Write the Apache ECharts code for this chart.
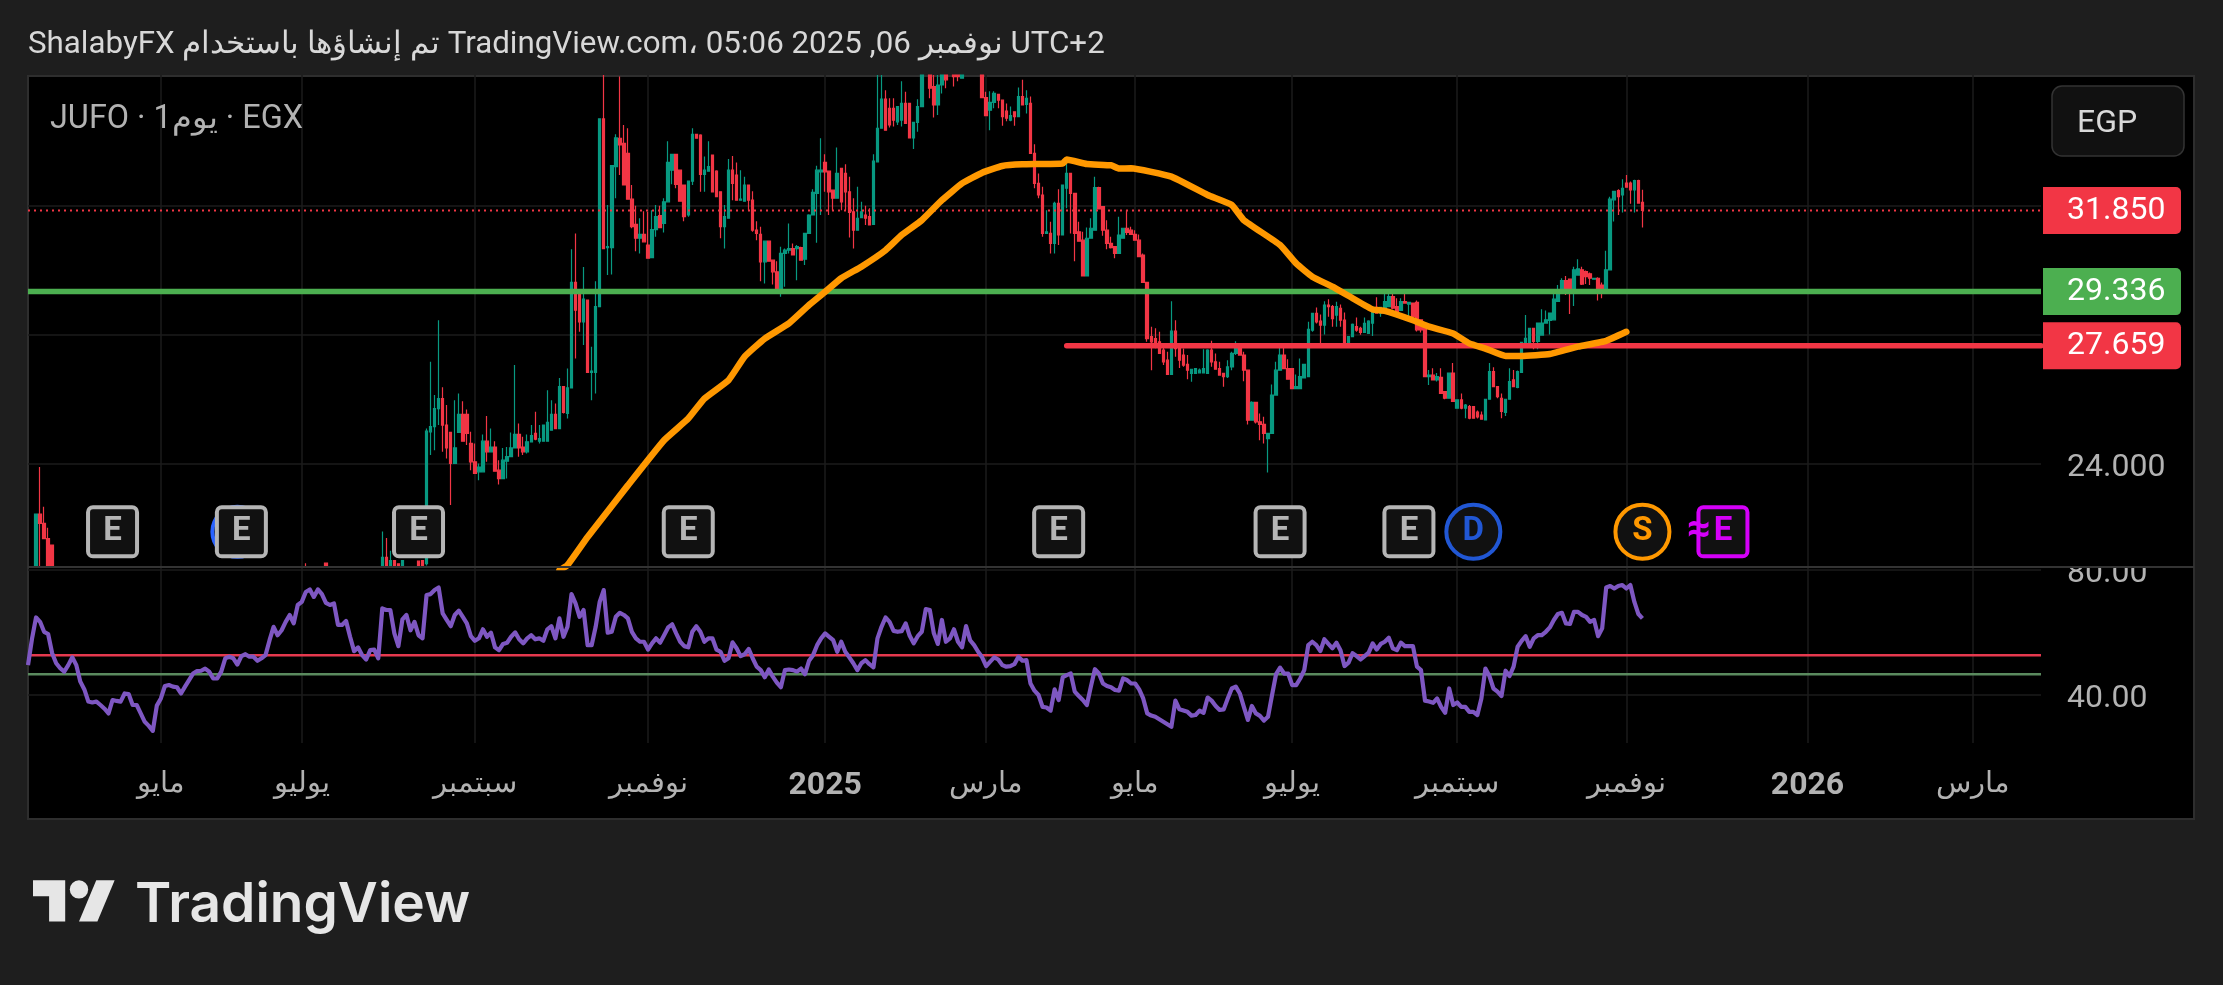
<!DOCTYPE html>
<html>
<head>
<meta charset="utf-8">
<title>JUFO</title>
<script src="https://cdn.jsdelivr.net/npm/echarts@6/dist/echarts.min.js"></script>
<style>
    html, body { margin: 0; padding: 0; background: #1e1e1e; }
    #chart { width: 2223px; height: 985px; }
</style>
</head>
<body>
<div id="chart"></div>
<script>
// bar slots on the time scale, empty ones run on into 2026
const slotCount = 501
const tickSlots = [33, 68, 111, 154, 198, 238, 275, 314, 355, 397, 442, 483]
const tickLabels = ['مايو', 'يوليو', 'سبتمبر', 'نوفمبر', '2025', 'مارس', 'مايو', 'يوليو', 'سبتمبر', 'نوفمبر', '2026', 'مارس']

// visible price range of the upper pane
const priceMin = 20.8
const priceMax = 36.05

// open, close, low, high
const firstBars = [
    [20.5, 22.44, 20.5, 22.44], [22.44, 22.15, 20.5, 23.9], [22.15, 21.68, 21.68, 22.67], [21.68, 20.5, 20.5, 22.02], [21.48, 20.5, 20.5, 21.48],
]
const firstBarsStart = 2
const tipBars = [
    [69, 20.5, 20.7, 20.5, 20.92], [74, 20.92, 20.5, 20.5, 20.92],
    [88, 20.5, 21.1, 20.5, 21.9], [89, 21.1, 20.5, 20.5, 21.7], [90, 20.5, 21.0, 20.5, 21.3], [91, 21.0, 20.5, 20.5, 21.0],
    [92, 20.9, 20.5, 20.5, 20.9], [93, 20.5, 21.0, 20.5, 21.0], [97, 20.98, 20.5, 20.5, 21.0], [98, 21, 20.5, 20.5, 21.0],
]
const mainBarsStart = 99
const mainBars = [
    [20.9, 25.01, 20.85, 25.09], [24.99, 25.15, 24.27, 27.16], [25.15, 25.71, 24.42, 26.13], [25.71, 26.02, 25.2, 28.45], [26.02, 25.2, 24.37, 26.37],
    [25.2, 24.49, 24.16, 25.82], [24.97, 24.01, 22.72, 24.97], [24.01, 24.49, 24.01, 25.97], [24.97, 25.53, 24.97, 26.18], [25.53, 24.7, 24.7, 25.94],
    [25.53, 24.94, 24.58, 25.68], [24.63, 24.06, 23.8, 24.99], [24.06, 23.7, 23.7, 24.63], [23.75, 23.9, 23.49, 24.01], [23.75, 24.7, 23.75, 24.91],
    [24.7, 24.37, 24.06, 25.48], [24.37, 24.52, 24.37, 25.09], [24.52, 23.77, 23.75, 24.7], [23.8, 23.54, 23.36, 24.11], [23.54, 24.11, 23.54, 24.49],
    [24.08, 24.22, 23.54, 24.52], [24.22, 24.49, 24.22, 24.97], [24.49, 24.91, 24.49, 27.06], [24.91, 24.49, 24.22, 25.25], [24.52, 24.37, 24.27, 24.84],
    [24.37, 24.68, 24.32, 24.91], [24.68, 24.87, 24.68, 25.2], [24.94, 24.76, 24.73, 25.61], [24.7, 24.78, 24.63, 25.2], [24.7, 25.2, 24.68, 25.2],
    [24.7, 25.28, 24.7, 26.28], [25.04, 25.53, 25.04, 25.97], [25.53, 25.09, 25.09, 25.87], [25.09, 26.39, 25.09, 26.66], [26.39, 25.59, 25.56, 26.39],
    [25.56, 26.35, 25.4, 26.95], [26.35, 29.62, 26.35, 30.65], [29.62, 28.76, 27.26, 31.14], [29.33, 28.4, 28.09, 29.33], [28.4, 29.1, 27.68, 30.1],
    [29.07, 26.83, 26.83, 29.07], [26.83, 26.87, 25.97, 27.63], [26.83, 28.87, 26.18, 29.66], [28.87, 34.69, 28.87, 34.69], [34.69, 30.67, 30.67, 36.25],
    [30.7, 30.73, 29.85, 32.02], [30.7, 33.24, 29.87, 33.24], [33.21, 34.1, 32.23, 34.21], [34.09, 33.88, 32.95, 36.0], [33.93, 32.64, 32.64, 34.5],
    [33.62, 32.2, 32.2, 34.4], [32.2, 31.35, 31.3, 32.64], [31.42, 30.99, 30.59, 32.0], [30.99, 31.11, 30.52, 31.61], [31.11, 30.88, 30.88, 31.83],
    [30.78, 30.37, 30.37, 31.81], [30.39, 31.26, 30.39, 31.86], [31.26, 31.66, 31.04, 32.02], [31.69, 31.32, 31.32, 32.0], [31.45, 32.12, 31.17, 32.23],
    [32.12, 33.34, 32.12, 34.0], [33.1, 33.59, 32.66, 33.59], [33.59, 32.66, 32.54, 33.59], [33.1, 32.14, 32.14, 33.1], [32.64, 31.66, 31.52, 32.64],
    [31.71, 32.76, 31.66, 32.76], [32.76, 34.21, 32.64, 34.4], [34.21, 34.09, 34.09, 34.21], [34.19, 32.97, 32.43, 34.21], [32.97, 33.1, 32.43, 33.52],
    [33.07, 33.21, 33.07, 34.0], [33.57, 32.43, 32.43, 33.57], [33.07, 32.28, 32.28, 33.1], [32.43, 31.35, 30.99, 32.43], [31.35, 31.66, 30.67, 32.02],
    [31.61, 33.1, 31.61, 33.45], [33.1, 32.69, 32.17, 33.54], [32.95, 32.17, 32.17, 33.34], [32.17, 32.2, 32.17, 33.1], [32.14, 32.64, 32.14, 32.9],
    [32.64, 32.17, 31.86, 32.64], [32.17, 31.24, 31.19, 32.45], [31.24, 31.14, 30.93, 31.52], [31.11, 30.26, 29.66, 31.35], [30.26, 30.9, 29.59, 30.9],
    [30.9, 30.28, 30.26, 30.9], [30.31, 29.95, 29.56, 30.31], [29.95, 29.38, 29.33, 30.28], [29.33, 30.52, 29.18, 30.73], [30.52, 30.62, 29.49, 30.67],
    [30.62, 30.67, 30.52, 31.45], [30.67, 30.47, 30.47, 30.83], [30.67, 30.73, 29.69, 30.78], [30.7, 30.31, 30.31, 30.73], [30.34, 31.14, 30.16, 31.14],
    [31.14, 31.71, 31.14, 31.73], [31.71, 32.41, 31.71, 32.51], [32.38, 33.1, 30.85, 33.24], [33.05, 33.1, 31.71, 34.09], [33.34, 33.05, 32.43, 33.59],
    [33.07, 32.43, 31.71, 33.07], [32.48, 32.23, 31.86, 32.48], [32.23, 33, 32.23, 33.8], [33.16, 32.12, 31.86, 33.16], [33, 32.43, 31.86, 33.28],
    [32.43, 31.79, 31.01, 32.9], [31.81, 31.24, 30.67, 32.23], [31.24, 31.61, 31.24, 32.59], [31.63, 31.81, 31.63, 32.12], [31.71, 31.61, 31.4, 32],
    [31.66, 31.4, 31.4, 31.92], [31.42, 33.38, 31.42, 33.59], [33.36, 34.4, 33.36, 36.2], [34.4, 35.3, 34.4, 36.2], [35.3, 34.34, 34.34, 35.58],
    [35.02, 34.5, 34.42, 35.33], [35.02, 34.65, 34.45, 35.33], [34.6, 35.07, 34.5, 35.07], [34.65, 35.17, 34.45, 35.86], [35.17, 34.55, 34.55, 35.53],
    [35.17, 34.1, 34.1, 35.17], [34.1, 34.58, 33.76, 34.58], [34.58, 35.07, 34.29, 35.3], [35.07, 36.3, 35.07, 36.5], null,
    [36.2, 35.64, 35.33, 36.3], [35.69, 35.12, 34.73, 36.2], [35.12, 35.74, 34.81, 36.2], [35.74, 36.1, 35.48, 36.3], [36.1, 35.9, 35.64, 36.3],
    null, [36.2, 36.0, 35.69, 36.3], [36.2, 36.0, 35.86, 36.3], [35.95, 36.1, 35.95, 36.3], null,
    null, null, null, [36.2, 35.35, 35.35, 36.3], [35.35, 34.79, 34.79, 35.53],
    [34.96, 35.2, 34.34, 35.55], [35.2, 35.48, 35.02, 35.55], [35.45, 35.27, 35.02, 35.45], [35.27, 34.76, 34.48, 35.27], [34.93, 34.71, 34.62, 35.17],
    [34.65, 34.79, 34.62, 35.07], [34.91, 34.76, 34.48, 34.91], [34.76, 35.38, 34.76, 35.66], [35.38, 35.12, 35.12, 35.9], [35.14, 35.33, 34.86, 35.58],
    [35.17, 33.62, 33.62, 35.38], [33.62, 32.69, 32.54, 33.9], [32.69, 32.33, 32.23, 33.0], [32.33, 31.14, 31.04, 32.59], [31.14, 31.19, 31.14, 31.86],
    [31.14, 30.83, 30.52, 31.5], [30.83, 32.07, 30.52, 32.12], [32.07, 31.09, 30.78, 32.51], [31.09, 32.64, 31.09, 32.64], [32.54, 33, 31.92, 33.31],
    [33, 32.38, 31.14, 33], [32.38, 31.14, 30.28, 32.38], [31.19, 30.9, 30.88, 31.5], [30.93, 29.82, 29.82, 31.19], [29.82, 30.99, 29.82, 31.32],
    [30.99, 31.3, 30.99, 31.61], [31.24, 32.56, 31.24, 32.9], [32.56, 31.9, 31.9, 32.59], [31.97, 31.24, 31.07, 31.97], [31.24, 30.83, 30.65, 31.55],
    [30.83, 30.7, 30.67, 31.04], [30.73, 30.52, 30.37, 30.73], [30.52, 31.09, 30.52, 31.66], [30.99, 31.3, 30.99, 31.3], [31.3, 31.17, 31.09, 31.86],
    [31.24, 31.11, 31.09, 31.35], [31.11, 30.93, 30.93, 31.24], [30.93, 30.42, 30.42, 31.11], [30.47, 29.62, 29.62, 30.52], [29.62, 27.88, 27.78, 29.64],
    [27.94, 27.78, 26.9, 28.25], [27.88, 27.63, 27.58, 28.2], [27.78, 27.42, 27.42, 28.09], [27.52, 27.16, 27.06, 27.68], [27.21, 26.77, 26.77, 27.47],
    [26.77, 28.11, 26.77, 29.04], [28.11, 27.57, 27.32, 28.45], [27.63, 27.21, 26.97, 27.63], [27.37, 27.06, 27.01, 27.57], [27.08, 26.9, 26.62, 27.37],
    [26.8, 26.93, 26.54, 26.93], [26.8, 26.95, 26.8, 26.95], [26.82, 26.9, 26.8, 26.95], [26.82, 26.95, 26.82, 27.55], [26.8, 27.52, 26.8, 27.55],
    [27.52, 27.16, 27.01, 27.81], [27.16, 26.93, 26.93, 27.42], [26.95, 26.75, 26.75, 27.16], [26.8, 26.7, 26.39, 26.8], [26.7, 27, 26.66, 27.21],
    [27, 27.42, 26.9, 27.47], [27.42, 27.68, 27.37, 27.8], [27.68, 27.37, 27.37, 27.73], [27.37, 26.9, 26.56, 27.47], [26.9, 25.35, 25.22, 26.9],
    [25.35, 25.9, 25.35, 25.94], [25.9, 25.3, 25.25, 25.9], [25.3, 25.22, 24.73, 25.56], [25.22, 24.94, 24.63, 25.46], [24.78, 24.94, 23.73, 24.94],
    [24.94, 26.13, 24.94, 26.46], [26.13, 26.9, 26.13, 27.16], [26.9, 27.37, 26.9, 27.7], [27.37, 26.95, 26.95, 27.7], [26.95, 26.62, 26.62, 27.24],
    [26.95, 26.33, 26.31, 26.95], [26.33, 26.39, 26.31, 26.77], [26.33, 26.7, 26.33, 27.26], [26.66, 27.08, 26.66, 27.08], [26.7, 28.17, 26.7, 28.4],
    [28.14, 28.66, 28.09, 28.66], [28.66, 28.4, 28.35, 28.84], [28.42, 28.3, 27.73, 28.63], [28.3, 28.92, 28.01, 29.04], [28.92, 28.87, 28.56, 29.1],
    [28.87, 28.5, 28.25, 28.92], [28.61, 28.87, 28.25, 29.02], [28.82, 28.45, 28.25, 28.94], [28.45, 27.73, 27.73, 28.69], [27.75, 27.94, 27.75, 27.94],
    [27.94, 28.32, 27.94, 28.35], [28.25, 28.14, 28.09, 28.53], [28.2, 28.07, 28, 28.25], [28.07, 28.35, 28.07, 28.53], [28.04, 28.42, 28.04, 28.45],
    [28.36, 28.85, 27.96, 28.87], [28.85, 28.67, 28.67, 29.16], [28.67, 28.85, 28.56, 28.85], [28.82, 29.03, 28.79, 29.36], [28.87, 29.18, 28.87, 29.29],
    [29.18, 28.82, 28.79, 29.37], [28.87, 28.67, 28.58, 29.13], [28.75, 29.03, 28.75, 29.13], [29.03, 28.98, 28.98, 29.27], [28.95, 29, 28.46, 29.0],
    [28.98, 28.56, 28.46, 28.98], [29, 28.15, 28.1, 29.06], [28.46, 28.15, 28.07, 28.48], [28.25, 26.7, 26.7, 28.25], [26.7, 26.75, 26.44, 26.91],
    [26.75, 26.6, 26.58, 26.96], [26.6, 26.7, 26.55, 26.81], [26.68, 26.18, 26.18, 26.96], [26.24, 26.03, 26, 26.24], [26.03, 26.81, 26.03, 26.81],
    [26.81, 25.93, 25.93, 27.12], [25.72, 25.98, 25.72, 25.98], [25.98, 25.72, 25.69, 26.18], [25.72, 25.82, 25.41, 25.85], [25.77, 25.41, 25.38, 25.82],
    [25.77, 25.41, 25.41, 25.79], [25.6, 25.45, 25.4, 25.65], [25.51, 25.38, 25.38, 25.62], [25.36, 26, 25.36, 26], [26, 26.86, 26, 27.12],
    [26.86, 26.39, 26.39, 26.99], [26.39, 26.08, 26.03, 26.39], [26.03, 25.62, 25.41, 26.18], [25.59, 26, 25.48, 26], [26, 26.55, 26, 26.96],
    [26.6, 26.39, 26.37, 26.91], [26.37, 26.86, 26.34, 26.89], [26.83, 27.76, 26.83, 27.76], [27.74, 27.89, 27.74, 28.61], [27.76, 28.2, 27.74, 28.2],
    [28.2, 27.79, 27.55, 28.2], [27.79, 28.36, 27.55, 28.38], [27.99, 28.36, 27.99, 28.79], [28.36, 28.46, 28.36, 28.75], [28.44, 28.67, 28.01, 28.67],
    [28.46, 29.1, 28.46, 29.37], [29.03, 29.34, 29.03, 29.54], [29.29, 29.68, 29.29, 29.75], [29.68, 29.34, 29.23, 29.82], [29.72, 29.34, 28.64, 29.72],
    [29.34, 30.01, 28.89, 30.11], [29.85, 30.04, 29.85, 30.34], [30.01, 29.57, 29.54, 30.11], [29.96, 29.8, 29.57, 29.99], [29.89, 29.75, 29.54, 29.93],
    [29.72, 29.75, 29.7, 29.75], [29.75, 29.29, 29.06, 29.78], [29.54, 29.34, 29.13, 29.62], [29.39, 30.01, 29.34, 30.6], [30.01, 32.2, 30.01, 32.28],
    [32.18, 32.44, 31.51, 32.44], [32.47, 32.28, 31.71, 32.51], [32.33, 32.54, 31.79, 32.82], [32.7, 32.57, 32.57, 32.95], [32.7, 32.49, 32.06, 32.75],
    [32.49, 32.78, 31.79, 32.8], [32.78, 32.08, 32.08, 32.8], [32.1, 31.85, 31.32, 32.49],
]

// long moving average, read at its bends
const maSlots = [132, 134, 139, 149, 158, 164, 168, 174, 178, 183, 189, 194, 198, 202, 207, 213, 217, 222, 227, 232, 237, 242, 247, 257, 258, 263, 269, 271, 274, 284, 293, 299, 302, 311, 315, 319, 324, 329, 334, 337, 344, 348, 354, 358, 362, 367, 371, 378, 385, 392, 397]
const maValues = [20.7, 20.86, 21.73, 23.33, 24.73, 25.4, 26.02, 26.59, 27.32, 27.88, 28.35, 28.92, 29.33, 29.75, 30.11, 30.62, 31.09, 31.55, 32.17, 32.69, 33.02, 33.23, 33.28, 33.31, 33.43, 33.29, 33.25, 33.15, 33.16, 32.9, 32.33, 32.02, 31.55, 30.78, 30.21, 29.8, 29.49, 29.13, 28.78, 28.74, 28.45, 28.25, 28.04, 27.73, 27.57, 27.34, 27.34, 27.4, 27.63, 27.81, 28.09]

const lastPrice = 31.85
const greenLevel = 29.336
const redLevel = 27.659
const redLevelFrom = 258

// oscillator, one value per bar from the first slot
const rsiValues = [
    49.5, 58, 64.8, 63.4, 60.2, 59.5, 53.3, 50.1, 48.5, 47.4, 49.5, 52, 49.5, 44.2, 41.7, 37.8, 37.5, 37.8, 36.7, 35.5,
    34, 38.3, 38, 37.8, 40.4, 40.2, 36.7, 36.7, 34, 31.3, 30, 28.4, 36.5, 38.8, 42.8, 43.1, 42.6, 42.4, 40.4, 42.6,
    44.7, 46.8, 47.6, 47.7, 48.4, 47.4, 45.2, 45.2, 47.4, 51.7, 52.2, 51.7, 49.7, 52.4, 53, 52.2, 52.2, 50.9, 51.7, 52.7,
    57.5, 61.8, 59.1, 60.7, 63.4, 65.6, 62.9, 68.8, 69.8, 73, 73.8, 71.4, 73.8, 72.3, 69.5, 68.8, 69.3, 62.4, 62.4, 63.7,
    58.6, 54, 55.2, 52.7, 51.3, 54.3, 54.5, 51.7, 67.7, 67.2, 67.2, 59.7, 55.6, 64.2, 65.6, 60.7, 63.4, 59.1, 58.1, 72,
    72.3, 73.6, 74.4, 66.1, 64, 62, 65.6, 67, 65, 62.9, 58.8, 57.3, 58.1, 61, 58.6, 59.9, 55.2, 54.3, 56.3, 56.7,
    58.6, 60, 57.8, 56.5, 58.1, 59.1, 57.8, 58.1, 57.3, 61, 62, 58.1, 64.5, 58.6, 61.8, 72.3, 69.3, 65, 67.2, 55.9,
    55.9, 61.8, 69.8, 73.6, 59.9, 60.2, 65, 66.3, 65.6, 64.5, 60.2, 58.1, 57, 57, 54.5, 56.5, 58.1, 56.7, 59.1, 61.6,
    62.6, 59.7, 57, 55.6, 55.2, 60.2, 62, 60.2, 57, 58.1, 58.1, 54.5, 53.8, 50.9, 51.7, 56.8, 54.9, 52.4, 53, 54.7,
    51.7, 49, 47.9, 45.6, 48.1, 45.8, 43.9, 42.4, 47.9, 48.1, 47.9, 47.4, 48.4, 46.6, 50.9, 52.7, 55.9, 58.1, 59.7, 58.6,
    57.5, 53.8, 57, 53.8, 52, 50.1, 47.9, 50.1, 51.1, 49.8, 48.8, 58.1, 61.8, 64.8, 63.4, 60.5, 60.2, 60.4, 62.9, 58.9,
    56.5, 58.8, 60.2, 67.5, 67.2, 59.7, 56.3, 64, 57, 58.1, 61, 57, 55.2, 62, 57.5, 55.9, 53.8, 52, 49.2, 50.6,
    52, 51.3, 49.5, 49, 49.2, 49.8, 52.2, 50.9, 51.1, 43.6, 41.3, 39.9, 36.1, 35.9, 34.9, 41.7, 38.3, 45.6, 46.3, 46.8,
    41, 39.6, 38.3, 36.7, 42.6, 48.2, 46.8, 43.6, 42.8, 42.4, 41.5, 41.3, 45.2, 44.7, 43.6, 43.6, 41.7, 38.8, 34, 33.3,
    32.9, 32.1, 31.3, 30.5, 29.7, 38.1, 35.3, 34.9, 34.5, 33.3, 33.5, 34.9, 34.2, 39.1, 38.1, 36.4, 35.1, 35.3, 38.8, 42,
    42.6, 40.4, 36.1, 31.9, 36.4, 34, 33.2, 31.7, 32.9, 39.9, 46.6, 48.7, 46.8, 46.8, 43.1, 43.1, 45.2, 47.9, 55.9, 57,
    55.9, 54, 57.8, 56.3, 54.9, 56.7, 54.3, 49.2, 50.3, 53.3, 52.4, 51.3, 52.4, 53.5, 56.5, 54.5, 56.3, 57, 58.3, 54.9,
    54.3, 56.7, 55.6, 55.6, 55.6, 49, 47.9, 38.1, 37.8, 37.4, 38.8, 36.1, 34.2, 42, 36.7, 37.5, 36.1, 36.1, 34.5, 34.5,
    33.5, 38.8, 48.4, 46, 42, 41, 39.6, 47.7, 46, 49, 55.4, 57.3, 58.8, 55.4, 58.1, 59.1, 59.1, 60.2, 61.6, 64,
    65.9, 66.3, 62.9, 62.7, 66.6, 66.6, 65.6, 65, 63.4, 64, 58.8, 61.3, 74.4, 74.9, 74.1, 74.9, 75.2, 74.1, 75.2, 69.8,
    65.9, 64.5,
]
const rsiUpperBand = 52.7
const rsiLowerBand = 46.6

// chart events along the bottom of the price pane
const eventLevel = 21.89
const eventSlots = [21, 53, 97, 164, 256, 311, 343]
const futureEventSlot = 421
const dividendSlot = 359
const hiddenDividendSlot = 52
const splitSlot = 401
const waveSlot = 415

const upColor = '#089981'
const downColor = '#F23645'
const font = 'Roboto, "Noto Sans", sans-serif'
const squareBadge = 'path://M5 0H45A5 5 0 0 1 50 5V45A5 5 0 0 1 45 50H5A5 5 0 0 1 0 45V5A5 5 0 0 1 5 0Z'

function levelLine (value, from, color, width, dash, xi, yi, cap) {
    return {
        type: 'line',
        xAxisIndex: xi,
        yAxisIndex: yi,
        data: [[from, value], [slotCount - 1, value]],
        symbol: 'none',
        silent: true,
        lineStyle: { color: color, width: width, type: dash || 'solid', cap: cap || 'butt' },
    }
}

function eventSeries (slots, symbol, size, color, fill, text, textColor, borderWidth, fontSize) {
    return {
        type: 'scatter',
        xAxisIndex: 0,
        yAxisIndex: 0,
        symbol: symbol,
        symbolSize: size,
        clip: false,
        silent: true,
        data: slots.map(s => [s, eventLevel]),
        itemStyle: { color: fill, borderColor: color, borderWidth: borderWidth === undefined ? 4 : borderWidth, opacity: 1 },
        label: {
            show: true,
            position: 'inside',
            formatter: text,
            color: textColor,
            fontFamily: font,
            fontWeight: 700,
            fontSize: fontSize || 33,
        },
        z: 6,
    }
}

// the wicks are not cut by the pane, so hold them inside it
const inPane = bar => bar.map(v => Math.min(priceMax, Math.max(priceMin, v)))

const candleData = new Array(slotCount).fill(null).map(() => ['-', '-', '-', '-'])
firstBars.forEach((b, i) => { candleData[firstBarsStart + i] = inPane(b) })
tipBars.forEach(b => { candleData[b[0]] = inPane(b.slice(1)) })
mainBars.forEach((b, i) => { if (b) candleData[mainBarsStart + i] = inPane(b) })

const slots = candleData.map((_, i) => String(i))
const maData = maSlots.map((s, i) => [s, maValues[i]])
const rsiData = rsiValues.map((v, i) => [i, v])

const isTick = i => tickSlots.indexOf(i) >= 0

function xAxisBase (gridIndex, showLabels) {
    return {
        type: 'category',
        gridIndex: gridIndex,
        data: slots,
        boundaryGap: false,
        axisLine: { show: false },
        axisTick: { show: false },
        splitLine: { show: true, interval: i => isTick(i), lineStyle: { color: '#1b1b1b', width: 1.5 } },
        axisLabel: {
            show: showLabels,
            interval: i => isTick(i),
            margin: 27,
            color: '#b2b2b2',
            fontFamily: font,
            fontSize: 29,
            hideOverlap: false,
            formatter: (v) => {
                const t = tickLabels[tickSlots.indexOf(+v)]
                return /^\d+$/.test(t) ? `{year|${t}}` : t
            },
            rich: { year: { fontFamily: font, fontSize: 32, fontWeight: 700, color: '#b2b2b2' } },
        },
    }
}

function priceTag (color) {
    return {
        backgroundColor: color,
        color: '#fff',
        fontFamily: font,
        fontSize: 32,
        width: 114,
        height: 47,
        lineHeight: 49,
        padding: [0, 0, 0, 24],
        borderRadius: [0, 5, 5, 0],
    }
}

const chart = echarts.init(document.getElementById('chart'))
chart.setOption({
    animation: false,
    backgroundColor: '#1e1e1e',
    grid: [
        { left: 28, top: 75, width: 2013, height: 492 },
        { left: 28, top: 567, width: 2013, height: 176 },
    ],
    xAxis: [xAxisBase(0, false), xAxisBase(1, true)],
    yAxis: [
        {
            type: 'value',
            gridIndex: 0,
            position: 'right',
            min: priceMin,
            max: priceMax,
            axisLine: { show: false },
            axisTick: { show: false, customValues: [24, 28, 32] },
            splitLine: { show: true, lineStyle: { color: '#1b1b1b', width: 1.5 } },
            axisLabel: {
                customValues: [24, redLevel, greenLevel, lastPrice],
                margin: 2,
                hideOverlap: false,
                showMinLabel: true,
                showMaxLabel: true,
                formatter: (v) => {
                    const text = (+v).toFixed(3)
                    if (+v === lastPrice || +v === redLevel) return `{red|${text}}`
                    if (+v === greenLevel) return `{green|${text}}`
                    return `{plain|${text}}`
                },
                rich: {
                    red: priceTag('#F23645'),
                    green: priceTag('#4CAF50'),
                    plain: { color: '#b2b2b2', fontFamily: font, fontSize: 32, width: 114, padding: [8, 0, 0, 24] },
                },
            },
        },
        {
            type: 'value',
            gridIndex: 1,
            position: 'right',
            min: 24.5,
            max: 81,
            axisLine: { show: false },
            axisTick: { show: false, customValues: [40, 80] },
            splitLine: { show: true, lineStyle: { color: '#1b1b1b', width: 1.5 } },
            axisLabel: {
                customValues: [40, 80],
                margin: 2,
                hideOverlap: false,
                formatter: v => `{plain|${(+v).toFixed(2)}}`,
                rich: {
                    plain: { color: '#b2b2b2', fontFamily: font, fontSize: 32, width: 114, padding: [8, 0, 0, 24] },
                },
            },
        },
    ],
    series: [
        {
            type: 'candlestick',
            xAxisIndex: 0,
            yAxisIndex: 0,
            data: candleData,
            barWidth: 3,
            clip: true,
            silent: true,
            itemStyle: {
                color: upColor,
                color0: downColor,
                borderColor: upColor,
                borderColor0: downColor,
                borderWidth: 1.2,
            },
        },
        levelLine(lastPrice, 0, '#F23645', 2, [2, 4], 0, 0),
        levelLine(greenLevel, 0, '#4CAF50', 5.5, null, 0, 0),
        levelLine(redLevel, redLevelFrom, '#F23645', 5.5, null, 0, 0, 'round'),
        {
            type: 'line',
            xAxisIndex: 0,
            yAxisIndex: 0,
            data: maData,
            symbol: 'none',
            smooth: 0.12,
            silent: true,
            lineStyle: { color: '#FF9800', width: 6.5, cap: 'round', join: 'round' },
        },
        levelLine(rsiUpperBand, 0, '#E5394E', 2.5, null, 1, 1),
        levelLine(rsiLowerBand, 0, '#5A8A5E', 2.5, null, 1, 1),
        {
            type: 'line',
            xAxisIndex: 1,
            yAxisIndex: 1,
            data: rsiData,
            symbol: 'none',
            silent: true,
            lineStyle: { color: '#7E57C2', width: 4.2, join: 'round' },
        },
        eventSeries([hiddenDividendSlot], 'circle', 50, '#2962FF', '#111', '', '#2962FF'),
        eventSeries(eventSlots, squareBadge, 49, '#b5b5b5', '#111', 'E', '#b5b5b5'),
        eventSeries([futureEventSlot], squareBadge, 49, '#D500F9', '#111', 'E', '#D500F9'),
        eventSeries([dividendSlot], 'circle', 54, '#2157D4', '#111', 'D', '#2157D4'),
        eventSeries([splitSlot], 'circle', 54, '#FF9800', '#111', 'S', '#FF9800'),
        eventSeries([waveSlot], 'circle', 1, 'transparent', 'transparent', '≈', '#D500F9', 0, 42),
    ],
    graphic: [
        // frame of the chart area
        { type: 'rect', z: -1, shape: { x: 28, y: 76, width: 2166, height: 743 }, style: { fill: '#000', stroke: '#2e2e2e', lineWidth: 2 } },
        // the upper oscillator label is cut off by the pane border
        { type: 'rect', z: 50, shape: { x: 2043, y: 545, width: 150, height: 21 }, style: { fill: '#000' } },
        { type: 'line', z: 51, shape: { x1: 28, y1: 567, x2: 2194, y2: 567 }, style: { stroke: '#333', lineWidth: 2 } },
        {
            type: 'text', z: 60, x: 28, y: 45,
            style: {
                text: 'ShalabyFX تم إنشاؤها باستخدام TradingView.com، نوفمبر 06, 2025 05:06 UTC+2',
                fill: '#d8d8d8', font: '31.3px ' + font, verticalAlign: 'middle',
            },
        },
        {
            type: 'text', z: 60, x: 50, y: 120,
            style: { text: 'JUFO · 1يوم · EGX', fill: '#b2b2b2', font: '32.4px ' + font, verticalAlign: 'middle' },
        },
        { type: 'rect', z: 60, shape: { x: 2052, y: 86, width: 132, height: 70, r: 10 }, style: { fill: '#111', stroke: '#333', lineWidth: 1.5 } },
        {
            type: 'text', z: 61, x: 2077, y: 124,
            style: { text: 'EGP', fill: '#d8d8d8', font: '32px ' + font, verticalAlign: 'middle' },
        },
        {
            type: 'polygon', z: 60, x: 33, y: 871, scaleX: 2.3, scaleY: 2.3,
            shape: { points: [[14, 22], [7, 22], [7, 11], [0, 11], [0, 4], [14, 4]] },
            style: { fill: '#e6e6e6' },
        },
        {
            type: 'polygon', z: 60, x: 33, y: 871, scaleX: 2.3, scaleY: 2.3,
            shape: { points: [[28, 22], [20, 22], [27.5, 4], [35.5, 4]] },
            style: { fill: '#e6e6e6' },
        },
        { type: 'circle', z: 60, shape: { cx: 79, cy: 889.4, r: 9.2 }, style: { fill: '#e6e6e6' } },
        {
            type: 'text', z: 60, x: 135, y: 905,
            style: { text: 'TradingView', fill: '#e6e6e6', font: '600 55px Inter, ' + font, verticalAlign: 'middle' },
        },
    ],
})
</script>
</body>
</html>
